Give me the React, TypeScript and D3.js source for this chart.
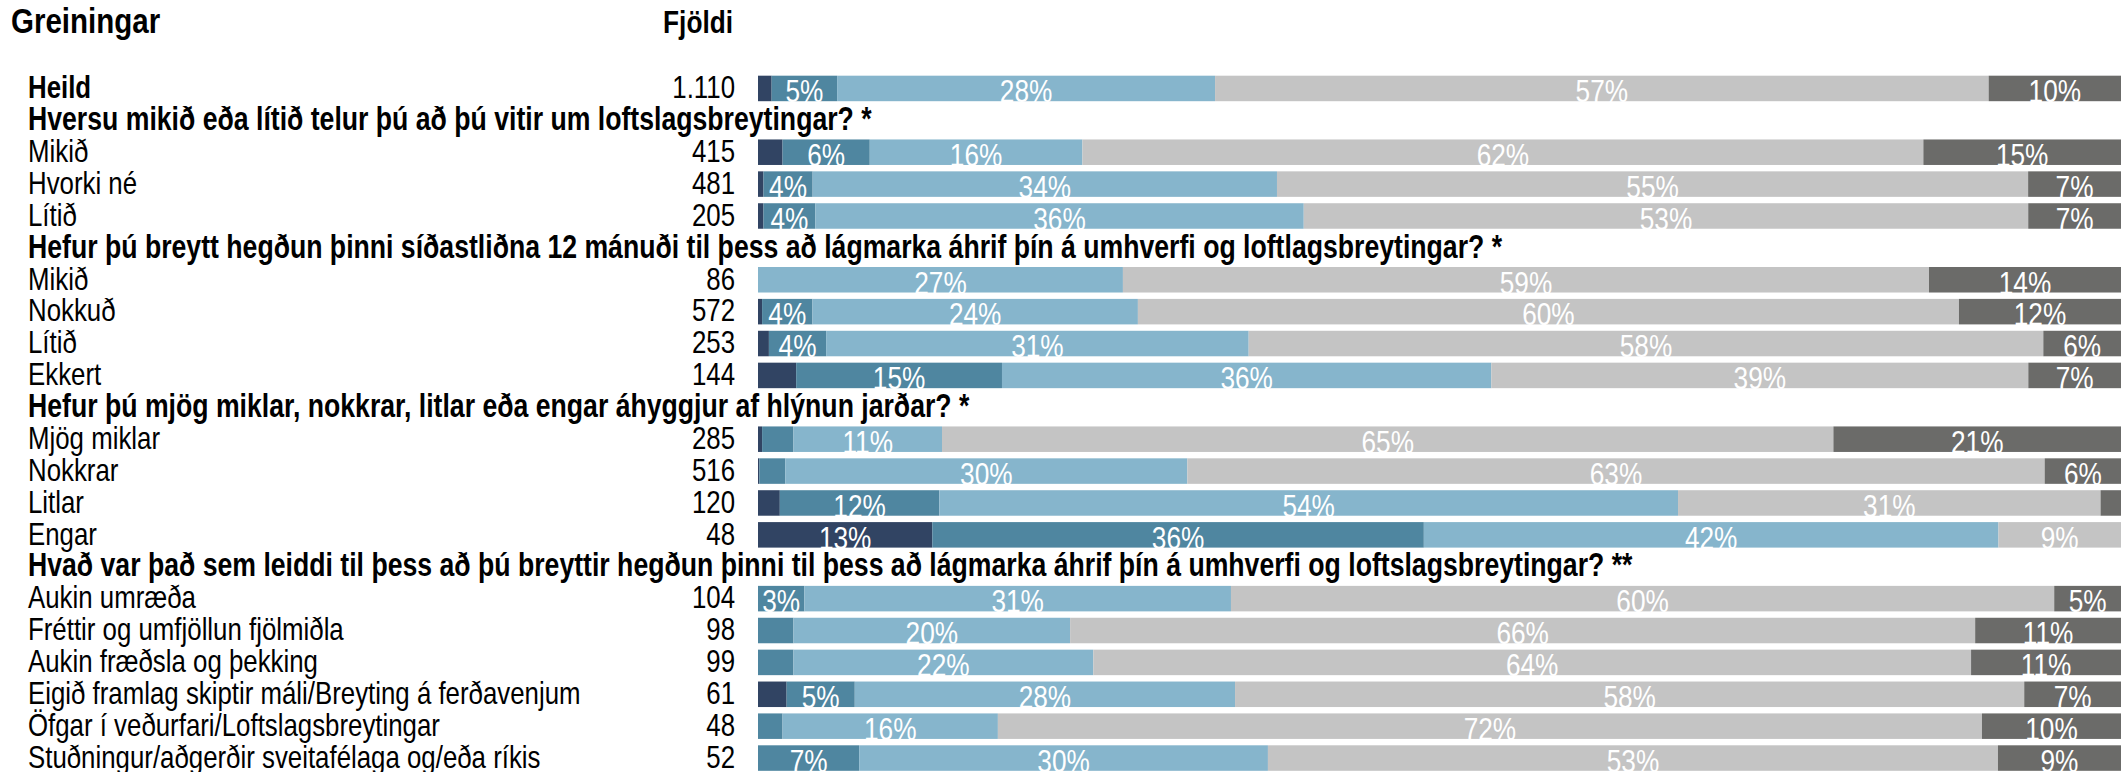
import React, { useEffect, useRef } from "react"
import * as d3 from "d3"

// one entry per line of the chart, top to bottom
const rowLabels = [
    "Heild",
    "Hversu mikið eða lítið telur þú að þú vitir um loftslagsbreytingar? *",
    "Mikið",
    "Hvorki né",
    "Lítið",
    "Hefur þú breytt hegðun þinni síðastliðna 12 mánuði til þess að lágmarka áhrif þín á umhverfi og loftlagsbreytingar? *",
    "Mikið",
    "Nokkuð",
    "Lítið",
    "Ekkert",
    "Hefur þú mjög miklar, nokkrar, litlar eða engar áhyggjur af hlýnun jarðar? *",
    "Mjög miklar",
    "Nokkrar",
    "Litlar",
    "Engar",
    "Hvað var það sem leiddi til þess að þú breyttir hegðun þinni til þess að lágmarka áhrif þín á umhverfi og loftslagsbreytingar? **",
    "Aukin umræða",
    "Fréttir og umfjöllun fjölmiðla",
    "Aukin fræðsla og þekking",
    "Eigið framlag skiptir máli/Breyting á ferðavenjum",
    "Öfgar í veðurfari/Loftslagsbreytingar",
    "Stuðningur/aðgerðir sveitafélaga og/eða ríkis",
]
const rowTypes = [
    "total", "question", "answer", "answer", "answer",
    "question", "answer", "answer", "answer", "answer",
    "question", "answer", "answer", "answer", "answer",
    "question", "answer", "answer", "answer", "answer", "answer", "answer",
]
const counts = [
    "1.110", "", "415", "481", "205",
    "", "86", "572", "253", "144",
    "", "285", "516", "120", "48",
    "", "104", "98", "99", "61", "48", "52",
]

// shares (%) of the five answer groups, darkest blue first
const part1 = [1.0, null, 1.8, 0.4, 0.4, null, 0, 0.3, 0.8, 2.8, null, 0.3, 0.1, 1.6, 12.8, null, 0, 0, 0, 2.1, 0, 0]
const part2 = [4.8, null, 6.4, 3.6, 3.8, null, 0, 3.7, 4.2, 15.1, null, 2.3, 1.9, 11.7, 36.1, null, 3.4, 2.6, 2.6, 5.0, 1.8, 7.4]
const part3 = [27.7, null, 15.6, 34.0, 35.8, null, 26.8, 23.9, 31.0, 35.9, null, 10.9, 29.5, 54.2, 42.2, null, 31.3, 20.3, 22.0, 27.9, 15.8, 29.9]
const part4 = [56.7, null, 61.7, 55.0, 53.1, null, 59.2, 60.3, 58.3, 39.4, null, 65.4, 62.9, 31.0, 9.0, null, 60.4, 66.4, 64.4, 57.9, 72.2, 53.4]
const part5 = [9.7, null, 14.5, 6.8, 6.8, null, 14.1, 11.9, 5.7, 6.8, null, 21.1, 5.6, 1.5, 0, null, 4.9, 10.7, 11.0, 7.1, 10.2, 9.0]

const partKeys = ["p1", "p2", "p3", "p4", "p5"]
const partColors = ["#314463", "#4f86a0", "#86b5cc", "#c4c4c4", "#6b6b69"]

const WIDTH = 2121
const HEIGHT = 772
const FONT = "'Liberation Sans', Arial, Helvetica, sans-serif"
const SQUEEZE = 0.82 // the chart uses a narrow face

function App() {
    const ref = useRef(null)

    useEffect(() => {
        const svg = d3.select(ref.current)
        svg.selectAll("*").remove()

        const y = d3
            .scaleBand()
            .domain(d3.range(rowLabels.length))
            .range([72.5, 774])
            .paddingInner(0.2)
            .paddingOuter(0.1)
        const x = d3.scaleLinear().domain([0, 1]).range([758, 2121])

        const text = (str, tx, ty, size, anchor, weight, fill) =>
            svg
                .append("text")
                .attr("transform", `translate(${tx},${ty}) scale(${SQUEEZE},1)`)
                .attr("text-anchor", anchor)
                .attr("font-family", FONT)
                .attr("font-size", size)
                .attr("font-weight", weight)
                .attr("fill", fill)
                .text(str)

        text("Greiningar", 11, 33, 36, "start", "bold", "#000")
        text("Fjöldi", 733, 33, 32, "end", "bold", "#000")

        const table = []
        rowLabels.forEach((label, i) => {
            const base = y(i) + y.bandwidth() - 3
            if (rowTypes[i] === "question") {
                text(label, 28, base, 32.5, "start", "bold", "#000")
                return
            }
            text(label, 28, base, 31.5, "start", rowTypes[i] === "total" ? "bold" : "normal", "#000")
            text(counts[i], 735, base, 31.5, "end", "normal", "#000")
            table.push({ row: i, p1: part1[i], p2: part2[i], p3: part3[i], p4: part4[i], p5: part5[i] })
        })

        const series = d3.stack().keys(partKeys).offset(d3.stackOffsetExpand)(table)

        const layers = svg
            .selectAll("g.layer")
            .data(series)
            .enter()
            .append("g")
            .attr("class", "layer")
            .attr("fill", (d, k) => partColors[k])

        layers
            .selectAll("rect")
            .data(d => d)
            .enter()
            .append("rect")
            .attr("x", d => x(d[0]))
            .attr("width", d => Math.max(0, x(d[1]) - x(d[0])))
            .attr("y", d => y(d.data.row))
            .attr("height", y.bandwidth())

        // white percentage labels, only where the segment is wide enough
        series.forEach(s => {
            s.forEach(d => {
                const v = d.data[s.key]
                if (v < 3) return
                text(
                    Math.round(v) + "%",
                    (x(d[0]) + x(d[1])) / 2,
                    y(d.data.row) + y.bandwidth() + 1,
                    32,
                    "middle",
                    "normal",
                    "#fff"
                )
            })
        })
    }, [])

    return (
        <svg
            ref={ref}
            width={WIDTH}
            height={HEIGHT}
            style={{ position: "absolute", left: 0, top: 0, background: "#fff" }}
        />
    )
}

export default App
